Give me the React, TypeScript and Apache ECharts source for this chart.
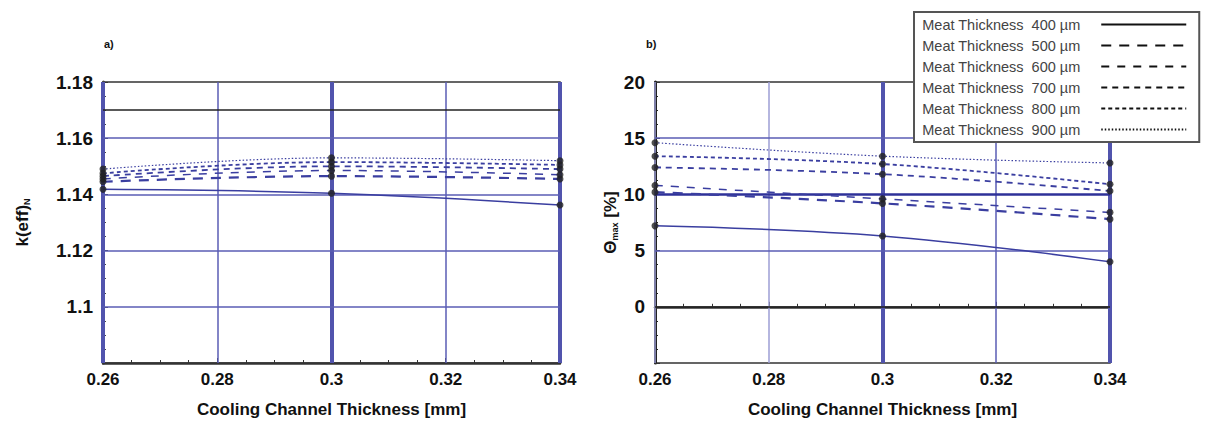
import React, { useEffect, useRef } from "react";
import * as echarts from "echarts";

const thickness = [0.26, 0.3, 0.34];
const seriesNames = [
  "Meat Thickness  400 µm",
  "Meat Thickness  500 µm",
  "Meat Thickness  600 µm",
  "Meat Thickness  700 µm",
  "Meat Thickness  800 µm",
  "Meat Thickness  900 µm",
];
const keff400 = [1.1418, 1.1404, 1.1362];
const keff500 = [1.1445, 1.1465, 1.1455];
const keff600 = [1.1455, 1.1485, 1.147];
const keff700 = [1.1465, 1.15, 1.149];
const keff800 = [1.1475, 1.1515, 1.1505];
const keff900 = [1.149, 1.153, 1.152];
const theta400 = [7.2, 6.3, 4.0];
const theta500 = [10.2, 9.2, 7.8];
const theta600 = [10.8, 9.6, 8.4];
const theta700 = [12.4, 11.8, 10.3];
const theta800 = [13.4, 12.7, 10.9];
const theta900 = [14.6, 13.4, 12.8];
const xTicks = [0.26, 0.28, 0.3, 0.32, 0.34];
const keffGrid = [1.1, 1.12, 1.14, 1.16];
const thetaGrid = [5, 10, 15];

const keffSets = [keff400, keff500, keff600, keff700, keff800, keff900];
const thetaSets = [theta400, theta500, theta600, theta700, theta800, theta900];
const dashes: any[] = ["solid", [10, 8], [8, 8], [6, 5], [4, 3], [1.5, 2]];
const widths = [1.5, 2.2, 1.5, 1.8, 1.8, 1.2];
const BLUE = "#3a3ea0";
const GRIDBLUE = "#5a5db4";

export default function App() {
  const ref = useRef<HTMLDivElement>(null);
  useEffect(() => {
    const chart = echarts.init(ref.current!, undefined, { renderer: "svg" });
    const font = "Liberation Sans";
    const series: any[] = [];
    [keffSets, thetaSets].forEach((sets, gi) => {
      sets.forEach((vals, i) => {
        series.push({
          type: "line",
          name: seriesNames[i],
          xAxisIndex: gi,
          yAxisIndex: gi,
          data: thickness.map((t, k) => [t, vals[k]]),
          smooth: 0.4,
          symbol: "none",
          itemStyle: { color: BLUE },
          lineStyle: { color: BLUE, width: widths[i], type: dashes[i] },
          z: 5,
        });
        series.push({
          type: "scatter",
          name: "pts" + gi + i,
          xAxisIndex: gi,
          yAxisIndex: gi,
          data: thickness.map((t, k) => [t, vals[k]]),
          symbolSize: 7,
          itemStyle: { color: "#222" },
          z: 6,
        });
      });
    });
    const vLines = (gi: number) =>
      xTicks.map((x) => {
        const thick = gi === 0 ? [0.26, 0.3, 0.34].includes(x) : [0.3, 0.34].includes(x);
        const light = gi === 1 && [0.26, 0.28].includes(x);
        return {
          xAxis: x,
          lineStyle: {
            color: light ? "#9c9ed4" : thick ? "#5154ad" : GRIDBLUE,
            width: thick ? 4 : 1.5,
            type: "solid",
          },
        };
      });
    const hLines = (gi: number) =>
      (gi === 0 ? keffGrid : thetaGrid).map((y) => ({
        yAxis: y,
        lineStyle: { color: gi === 1 && y === 10 ? "#2e3199" : GRIDBLUE, width: gi === 1 && y === 10 ? 2.5 : 1.5, type: "solid" },
      }));
    [0, 1].forEach((gi) => {
      series.push({
        type: "line",
        name: "grid" + gi,
        xAxisIndex: gi,
        yAxisIndex: gi,
        data: [],
        silent: true,
        z: 1,
        markLine: {
          silent: true,
          symbol: "none",
          label: { show: false },
          animation: false,
          data: [
            ...vLines(gi),
            ...hLines(gi),
            { yAxis: gi === 0 ? 1.17 : 0, lineStyle: { color: "#222", width: 1.5, type: "solid" } },
          ],
        },
      });
    });
    const xAxis = (gi: number) => ({
      type: "value",
      gridIndex: gi,
      min: 0.26,
      max: 0.34,
      interval: 0.02,
      name: "Cooling Channel Thickness [mm]",
      nameLocation: "middle",
      nameGap: 38,
      nameTextStyle: { fontFamily: font, fontWeight: "bold", fontSize: 17, color: "#111" },
      axisLine: { show: true, lineStyle: { color: "#333", width: 2.5 } },
      axisTick: { show: true, inside: true, length: 5, lineStyle: { color: "#333" } },
      minorTick: { show: true, splitNumber: 4, length: 3, lineStyle: { color: "#333" } },
      axisLabel: {
        fontFamily: font,
        fontWeight: "bold",
        fontSize: 17,
        color: "#111",
        margin: 8,
        formatter: (v: number) => String(Math.round(v * 100) / 100),
      },
      splitLine: { show: false },
    });
    const option: any = {
      animation: false,
      backgroundColor: "#fff",
      grid: [
        { left: 103, right: 657, top: 82, bottom: 58, show: true, borderColor: "#333", borderWidth: 1.5 },
        { left: 655, right: 107, top: 82, bottom: 58, show: true, borderColor: "#333", borderWidth: 1.5 },
      ],
      xAxis: [xAxis(0), xAxis(1)],
      yAxis: [
        {
          type: "value",
          gridIndex: 0,
          min: 1.08,
          max: 1.18,
          interval: 0.02,
          name: "k(eff){s|N}",
          nameLocation: "middle",
          nameGap: 72,
          nameTextStyle: {
            fontFamily: font,
            fontWeight: "bold",
            fontSize: 17,
            color: "#111",
            rich: { s: { fontFamily: font, fontWeight: "bold", fontSize: 9, color: "#111", verticalAlign: "bottom", padding: [8, 0, 0, 0] } },
          },
          axisLine: { show: true, lineStyle: { color: "#444", width: 3 } },
          axisTick: { show: true, inside: true, length: 5, lineStyle: { color: "#333" } },
          minorTick: { show: true, splitNumber: 4, length: 3 },
          axisLabel: {
            fontFamily: font,
            fontWeight: "bold",
            fontSize: 19,
            color: "#111",
            margin: 10,
            formatter: (v: number) => (v < 1.09 ? "" : String(Math.round(v * 100) / 100)),
          },
          splitLine: { show: false },
        },
        {
          type: "value",
          gridIndex: 1,
          min: -5,
          max: 20,
          interval: 5,
          name: "Θ{s|max} [%]",
          nameLocation: "middle",
          nameGap: 36,
          nameTextStyle: {
            fontFamily: font,
            fontWeight: "bold",
            fontSize: 17,
            color: "#111",
            rich: { s: { fontFamily: font, fontWeight: "bold", fontSize: 9, color: "#111", padding: [8, 0, 0, 0] } },
          },
          axisLine: { show: true, lineStyle: { color: "#222", width: 3 } },
          axisTick: { show: true, inside: true, length: 5, lineStyle: { color: "#333" } },
          minorTick: { show: true, splitNumber: 4, length: 3 },
          axisLabel: {
            fontFamily: font,
            fontWeight: "bold",
            fontSize: 19,
            color: "#111",
            margin: 10,
            formatter: (v: number) => (v < 0 ? "" : String(v)),
          },
          splitLine: { show: false },
        },
      ],
      legend: {
        data: seriesNames,
        orient: "vertical",
        left: 914,
        top: 12,
        width: 290,
        align: "right",
        itemWidth: 85,
        itemHeight: 14,
        itemGap: 6,
        padding: [5, 12, 5, 8],
        backgroundColor: "#fff",
        borderColor: "#555",
        borderWidth: 2,
        selectedMode: false,
        textStyle: { fontFamily: font, fontSize: 14.5, color: "#444", padding: [0, 16, 0, 0] },
        itemStyle: { opacity: 0, borderWidth: 0 },
        lineStyle: { color: "#111" },
        z: 20,
      },
      graphic: [
        { type: "text", left: 104, top: 38, style: { text: "a)", font: "bold 11px Liberation Sans", fill: "#111" } },
        { type: "text", left: 646, top: 38, style: { text: "b)", font: "bold 11px Liberation Sans", fill: "#111" } },
      ],
      series,
    };
    chart.setOption(option);
    return () => chart.dispose();
  }, []);
  return <div ref={ref} style={{ position: "fixed", left: 0, top: 0, width: 1217, height: 423 }} />;
}
